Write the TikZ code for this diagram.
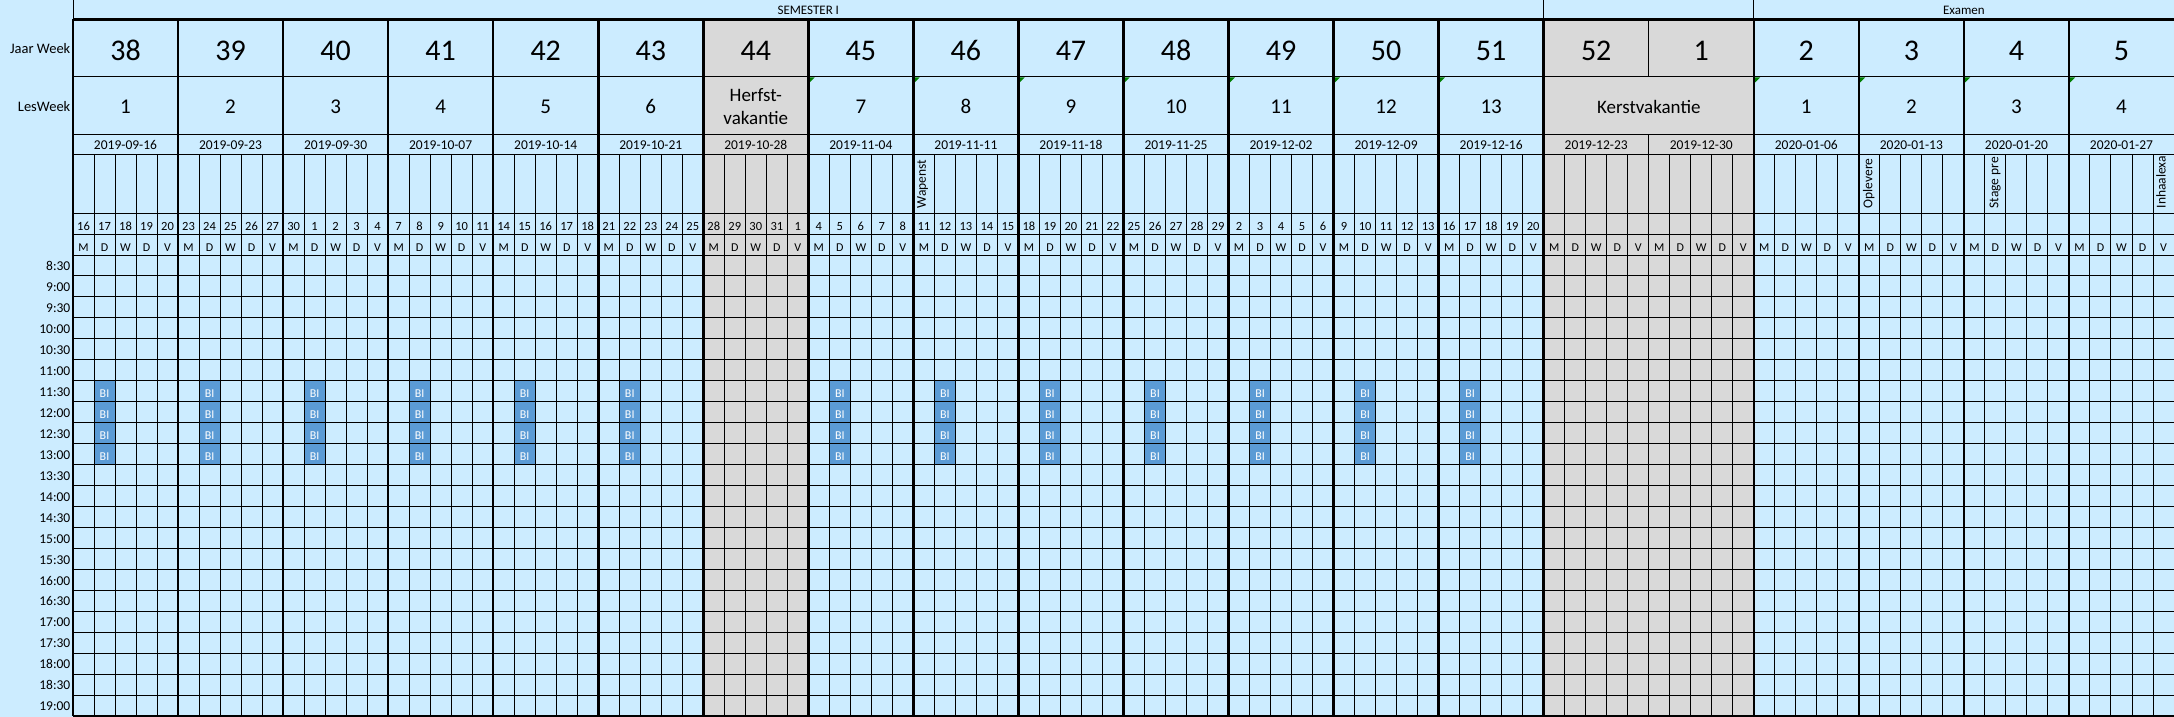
\documentclass[tikz,border=0pt]{standalone}
\usepackage{fontspec}
\setmainfont{Carlito}
\definecolor{cellblue}{HTML}{CCECFF}
\definecolor{holgray}{HTML}{D9D9D9}
\definecolor{biblue}{HTML}{5B9BD5}
\definecolor{notegreen}{HTML}{008000}
\begin{document}
\begin{tikzpicture}[x=1pt,y=-1pt,
  thinline/.style={line width=1pt,black},
  thickline/.style={line width=2.5pt,black},
  lbl/.style={inner sep=0pt,font=\fontsize{14.5}{16}\selectfont,anchor=base east},
  wknum/.style={inner sep=0pt,font=\fontsize{30}{32}\selectfont,anchor=base},
  lwnum/.style={inner sep=0pt,font=\fontsize{21}{23}\selectfont,anchor=base},
  vak/.style={inner sep=0pt,font=\fontsize{19}{22}\selectfont,anchor=base},
  datetxt/.style={inner sep=0pt,font=\fontsize{13.5}{15}\selectfont,anchor=base},
  daynum/.style={inner sep=0pt,font=\fontsize{12.5}{14}\selectfont,anchor=base},
  dayltr/.style={inner sep=0pt,font=\fontsize{12}{14}\selectfont,anchor=base},
  timetxt/.style={inner sep=0pt,font=\fontsize{13.5}{15}\selectfont,anchor=base east},
  bitxt/.style={inner sep=0pt,font=\fontsize{12}{14}\selectfont,text=white,anchor=base},
  rottxt/.style={inner sep=0pt,font=\fontsize{13.5}{15}\selectfont,rotate=90,anchor=base west},
  bandtxt/.style={inner sep=0pt,font=\fontsize{13}{15}\selectfont,anchor=base}
]
\useasboundingbox (0,0) rectangle (2174,717);
% background
\fill[cellblue] (0,0) rectangle (2174,717);
% holiday columns
\fill[holgray] (703.3,19.5) rectangle (808.35,716);
\fill[holgray] (1543.7,19.5) rectangle (1753.8,716);
% BI blocks
\foreach \i in {0,1,2,3,4,5,7,8,9,10,11,12,13}{
  \foreach \k in {6,7,8,9}{
    \pgfmathsetmacro{\xa}{73+\i*105.05+21.01}
    \pgfmathsetmacro{\ya}{255+\k*20.955}
    \fill[biblue] (\xa,\ya) rectangle ++(21.01,20.955);
    \node[bitxt] (bi-\i-\k) at ({\xa+10.5},{\ya+16.5}) {BI};
  }
}
% comment markers
\foreach \i in {7,8,9,10,11,12,13,16,17,18,19}{
  \pgfmathsetmacro{\xm}{73+\i*105.05+1.2}
  \fill[notegreen] (\xm,77.5) -- ++(5,0) -- ++(-5,5) -- cycle;
}
% day lines
\foreach \i in {0,...,19}{
  \foreach \j in {1,...,4}{
    \pgfmathsetmacro{\xd}{73+\i*105.05+\j*21.01}
    \draw[thinline] (\xd,154) -- (\xd,716);
  }
}
% horizontal thin lines
\foreach \y in {77,134,154,213,234} \draw[thinline] (73,\y) -- (2174,\y);
\foreach \k in {0,...,21}{
  \pgfmathsetmacro{\yy}{255+\k*20.955}
  \draw[thinline] (73,\yy) -- (2174,\yy);
}
% week lines
\foreach \i in {0,...,14,16,17,18,19}{
  \pgfmathsetmacro{\xw}{73+\i*105.05}
  \draw[thickline] (\xw,19.5) -- (\xw,716);
}
\draw[thinline] (1648.75,19.5) -- (1648.75,77);
\draw[thinline] (1648.75,134) -- (1648.75,716);
% top band
\draw[thinline] (73,0) -- (73,19.5);
\draw[thinline] (1543.7,0) -- (1543.7,19.5);
\draw[thinline] (1753.8,0) -- (1753.8,19.5);
\draw[thickline] (73,19.5) -- (2174,19.5);
\draw[thickline] (73,716) -- (2174,716);
\node[bandtxt] (sem) at (808.3,15) {SEMESTER I};
\node[bandtxt] (exa) at (1963.9,15) {Examen};
% row labels
\node[lbl] (jwl) at (70.5,54) {Jaar Week};
\node[lbl] (lwl) at (70.5,111) {LesWeek};
% year weeks
\foreach \w [count=\c from 0] in {38,39,40,41,42,43,44,45,46,47,48,49,50,51,52,1,2,3,4,5}{
  \node[wknum] (jw\c) at ({73+\c*105.05+52.5},60) {\w};
}
% les weeks
\foreach \c/\n in {0/1,1/2,2/3,3/4,4/5,5/6,7/7,8/8,9/9,10/10,11/11,12/12,13/13,16/1,17/2,18/3,19/4}{
  \node[lwnum] (lw\c) at ({73+\c*105.05+52.5},113.5) {\n};
}
\node[vak] (herfst) at (755.8,102) {Herfst-};
\node[vak] (herfstb) at (755.8,124) {vakantie};
\node[vak] (kerst) at (1648.75,113.5) {Kerstvakantie};
% dates
\foreach \dt [count=\c from 0] in {2019-09-16,2019-09-23,2019-09-30,2019-10-07,2019-10-14,2019-10-21,2019-10-28,2019-11-04,2019-11-11,2019-11-18,2019-11-25,2019-12-02,2019-12-09,2019-12-16,2019-12-23,2019-12-30,2020-01-06,2020-01-13,2020-01-20,2020-01-27}{
  \node[datetxt] (dt\c) at ({73+\c*105.05+52.5},149.5) {\dt};
}
% day numbers
\foreach \c/\a/\b/\cc/\d/\e in {0/16/17/18/19/20,1/23/24/25/26/27,2/30/1/2/3/4,3/7/8/9/10/11,4/14/15/16/17/18,5/21/22/23/24/25,6/28/29/30/31/1,7/4/5/6/7/8,8/11/12/13/14/15,9/18/19/20/21/22,10/25/26/27/28/29,11/2/3/4/5/6,12/9/10/11/12/13,13/16/17/18/19/20}{
  \pgfmathsetmacro{\xb}{73+\c*105.05+10.5}
  \node[daynum] (dn\c a) at (\xb,230) {\a};
  \node[daynum] (dn\c b) at ({\xb+21.01},230) {\b};
  \node[daynum] (dn\c c) at ({\xb+42.02},230) {\cc};
  \node[daynum] (dn\c d) at ({\xb+63.03},230) {\d};
  \node[daynum] (dn\c e) at ({\xb+84.04},230) {\e};
}
% day letters
\foreach \c in {0,...,19}{
  \foreach \l [count=\j from 0] in {M,D,W,D,V}{
    \node[dayltr] (dl\c-\j) at ({73+\c*105.05+10.5+\j*21.01},251.5) {\l};
  }
}
% time labels
\foreach \t [count=\k from 0] in {8:30,9:00,9:30,10:00,10:30,11:00,11:30,12:00,12:30,13:00,13:30,14:00,14:30,15:00,15:30,16:00,16:30,17:00,17:30,18:00,18:30,19:00}{
  \node[timetxt] (tm\k) at (70.5,{255+\k*20.955+15.7}) {\t};
}
% rotated notes
\foreach \xl/\txt/\nm in {913.4/Wapenst/nwap, 1859.9/Oplevere/nopl, 1985.9/Stage pre/nsta, 2153.0/Inhaalexa/ninh}{
  \begin{scope}
    \clip (\xl,154.5) rectangle ({\xl+21},212.5);
    \node[rottxt] (\nm) at ({\xl+12.5},208.5) {\txt};
  \end{scope}
}
\end{tikzpicture}
\end{document}
